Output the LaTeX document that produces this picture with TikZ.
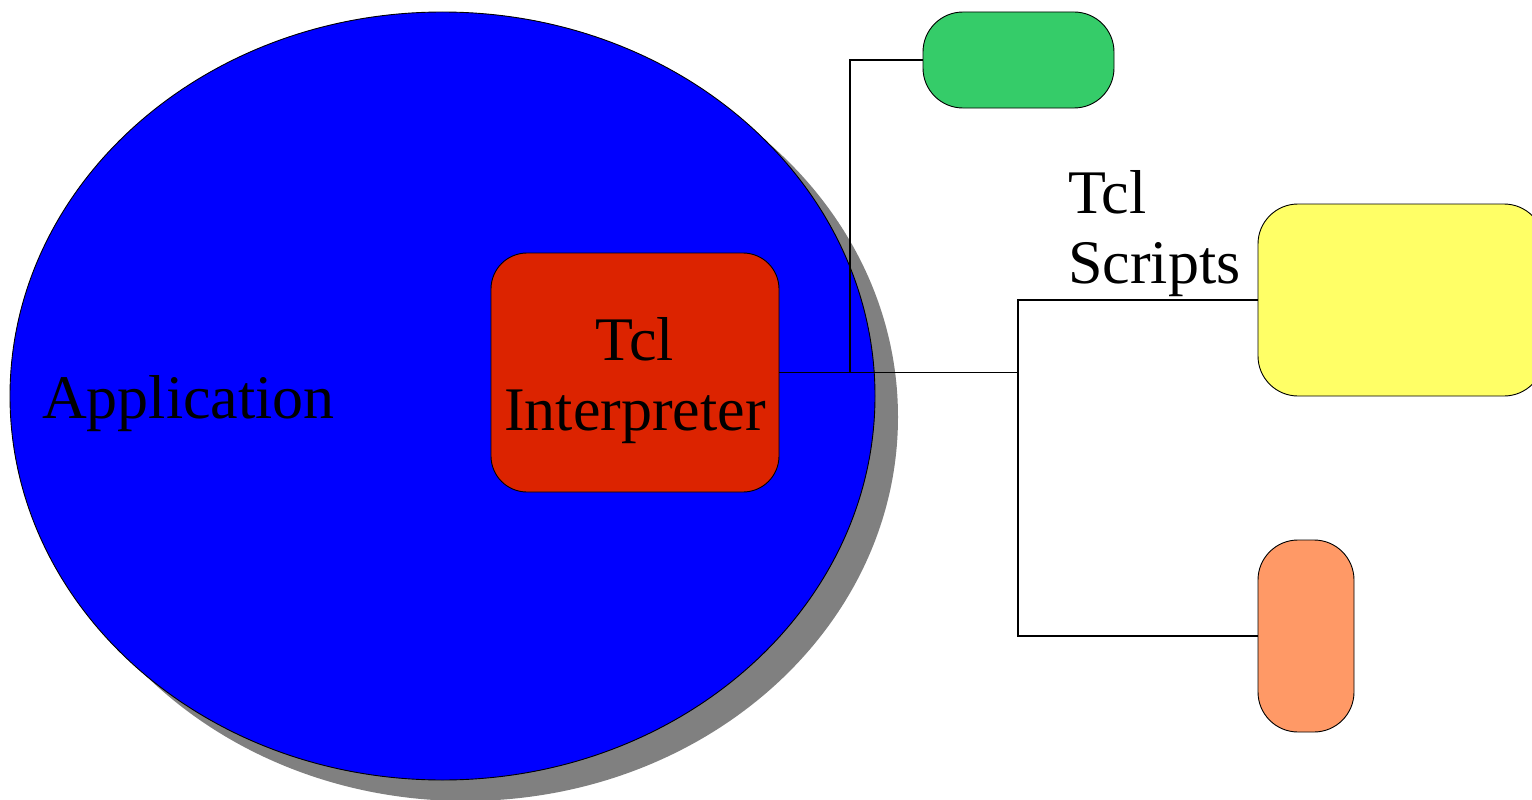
\documentclass[tikz,border=0pt]{standalone}
\usepackage{fontspec}
\setmainfont{Liberation Serif}
\usetikzlibrary{shapes.geometric}

\definecolor{appblue}{HTML}{0000FF}
\definecolor{shadowgray}{HTML}{808080}
\definecolor{interpred}{HTML}{DC2300}
\definecolor{scriptgreen}{HTML}{35CC69}
\definecolor{scriptyellow}{HTML}{FFFF66}
\definecolor{scriptorange}{HTML}{FF9966}

\tikzset{
  bigtext/.style={font=\fontsize{62}{70}\selectfont, text=black, inner sep=0pt},
  roundbox/.style={draw=black, line width=0.9pt, rounded corners=#1, inner sep=0pt},
  roundbox/.default=36pt,
  wire/.style={draw=black, line width=1.2pt},
}

\begin{document}
\begin{tikzpicture}[x=1pt, y=-1pt]
  \useasboundingbox (0,0) rectangle (1532,800);

  % application ellipse with its shadow
  \node[ellipse, fill=shadowgray, minimum width=865pt, minimum height=768pt, inner sep=0pt]
    (appshadow) at (465.5,417) {};
  \node[ellipse, fill=appblue, draw=black, line width=0.9pt,
        minimum width=865pt, minimum height=768pt, inner sep=0pt]
    (app) at (442.5,396) {};
  \node[bigtext, anchor=base west] (applabel) at (42,418) {Application};

  % interpreter box
  \node[roundbox, fill=interpred, minimum width=288pt, minimum height=239pt]
    (interp) at (635,372.5) {};
  \node[bigtext, align=center, anchor=base] (interplabel) at (635,430) {Tcl\\Interpreter};

  % script boxes
  \node[roundbox=40pt, fill=scriptgreen, minimum width=191pt, minimum height=96pt]
    (green) at (1018.5,60) {};
  \node[roundbox=40pt, fill=scriptyellow, minimum width=286pt, minimum height=192pt]
    (yellow) at (1401,300) {};
  \node[roundbox=40pt, fill=scriptorange, minimum width=96pt, minimum height=192pt]
    (orange) at (1306,636) {};

  \node[bigtext, align=left, anchor=base west] (scripts) at (1068,283) {Tcl\\Scripts};

  % connectors
  \coordinate (jA) at (850,372.5);
  \coordinate (jB) at (1018,372.5);
  \draw[wire] (interp.east) -- (jB);
  \draw[wire] (jA) |- (green.west);
  \draw[wire] (jB) |- (yellow.west);
  \draw[wire] (jB) |- (orange.west);
\end{tikzpicture}
\end{document}
